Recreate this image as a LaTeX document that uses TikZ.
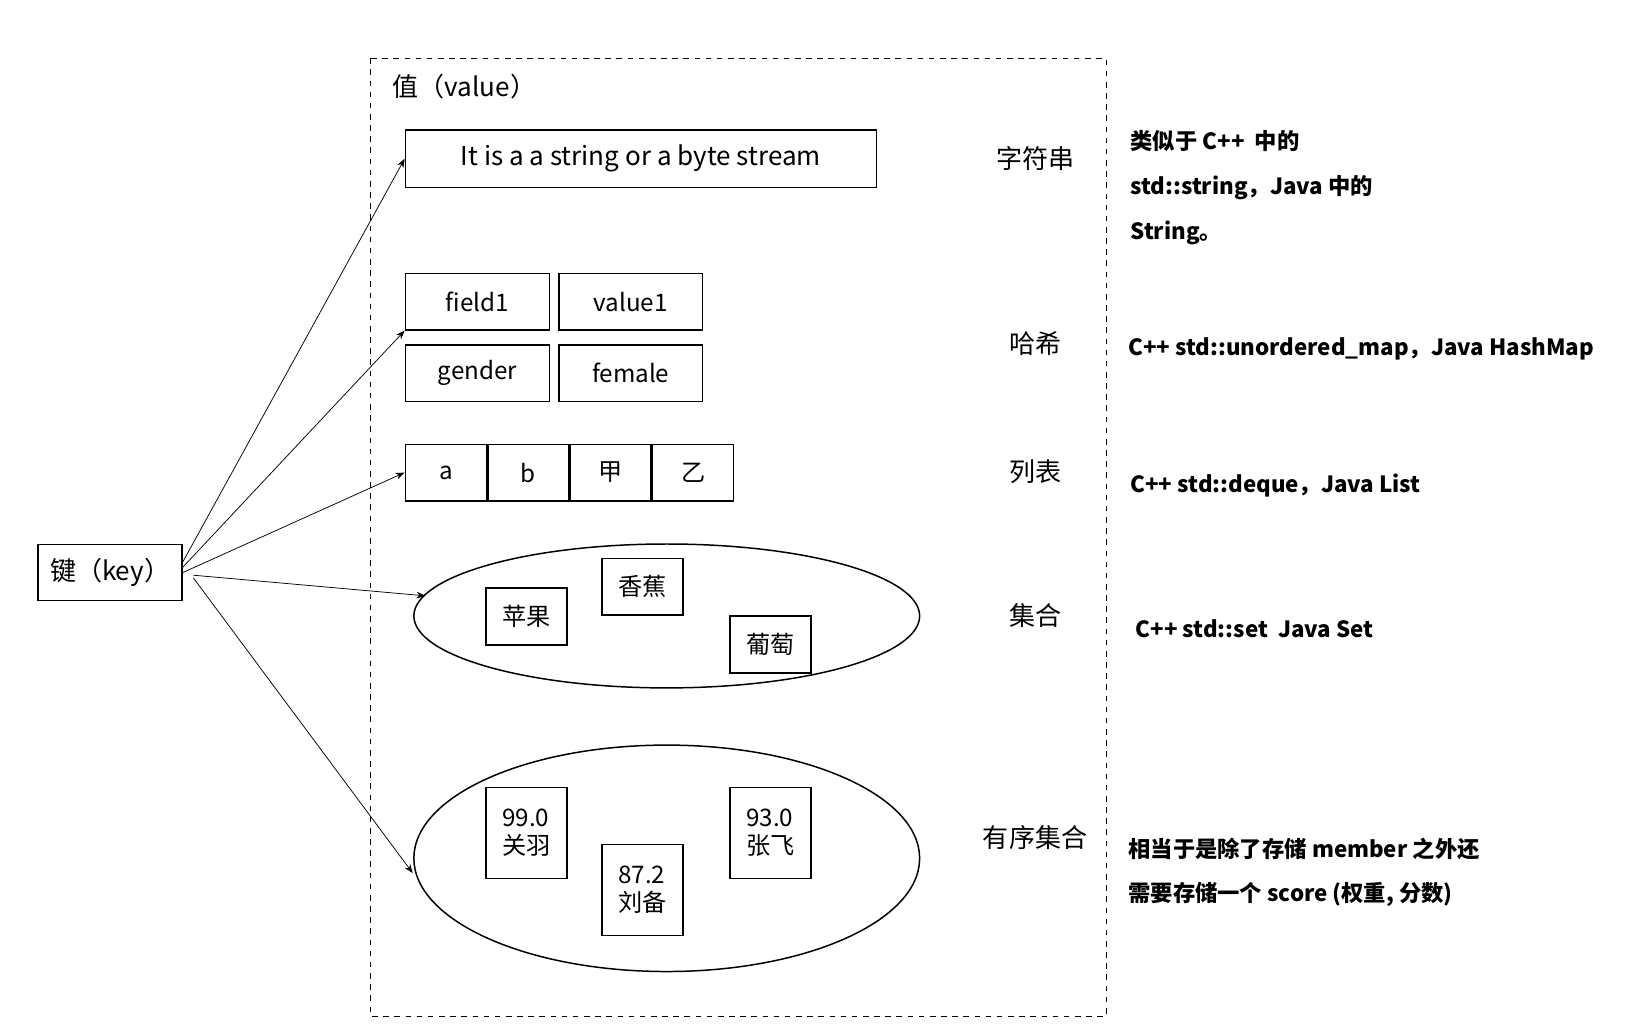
\documentclass[tikz,border=0pt]{standalone}
\usepackage{fontspec}
\setmainfont{Noto Sans CJK SC}
\usetikzlibrary{positioning,arrows.meta,shapes.geometric}
\tikzset{
	>=Stealth, % arrow heads
	cell/.style={draw, thick, minimum width=1.53cm, minimum height=1.07cm, inner sep=0pt, font=\fontsize{13}{15}\selectfont}, % value boxes
	pair/.style={cell, minimum width=2.72cm}, % hash entries
	tag/.style={font=\fontsize{14}{16}\selectfont}, % type names
	note/.style={anchor=west, font=\bfseries\fontsize{12}{14}\selectfont}, % right hand notes
}

\begin{document}
\begin{tikzpicture}[x=0.02cm,y=-0.02cm]
		\useasboundingbox (0,0) rectangle (1560,974);
		% key and frame
		\node[draw, thick, minimum width=2.72cm, minimum height=1.06cm, font=\fontsize{14}{16}\selectfont] (key) at (104,541) {键（key）};
		\draw[dashed] (350,55) rectangle (1045,960);
		\node[anchor=west, font=\fontsize{14}{16}\selectfont] (val) at (365,82) {值（value）};
		% string
		\node[draw, thick, minimum width=8.9cm, minimum height=1.08cm, font=\fontsize{14}{16}\selectfont] (str) at (605.5,150) {It is a a string or a byte stream};
		% hash
		\node[pair] (f1) at (451,285) {field1};
		\node[pair] (v1) at (596,285) {value1};
		\node[pair] (g1) at (451,352.5) {gender};
		\node[pair] (fe) at (596,352.5) {female};
		% list
		\node[cell] (la) at (421.25,446.5) {a};
		\node[cell, right=0pt of la] (lb) {b};
		\node[cell, right=0pt of lb] (lc) {甲};
		\node[cell, right=0pt of lc] (ld) {乙};
		% set
		\node[draw, thick, ellipse, minimum width=9.56cm, minimum height=2.72cm] (set) at (630,582) {};
		\node[cell] (s1) at (497.5,582.5) {苹果};
		\node[cell] (s2) at (607,554.5) {香蕉};
		\node[cell] (s3) at (728,609) {葡萄};
		% sorted set
		\node[draw, thick, ellipse, minimum width=9.56cm, minimum height=4.28cm] (zset) at (630,811) {};
		\node[cell, minimum height=1.72cm, align=left] (z1) at (497.5,787) {99.0\\关羽};
		\node[cell, minimum height=1.72cm, align=left] (z2) at (607,841) {87.2\\刘备};
		\node[cell, minimum height=1.72cm, align=left] (z3) at (728,787) {93.0\\张飞};
		% type names
		\node[tag] (t1) at (978,150) {字符串};
		\node[tag] (t2) at (978,325) {哈希};
		\node[tag] (t3) at (978,446) {列表};
		\node[tag] (t4) at (978,582) {集合};
		\node[tag] (t5) at (978,791) {有序集合};
		% notes
		\node[note] (n1) at (1062,133) {类似于 C++ \ 中的};
		\node[note] (n2) at (1062,177) {std::string，Java 中的};
		\node[note] (n3) at (1062,220) {String。};
		\node[note] (n4) at (1060,330) {C++ std::unordered\_map，Java HashMap};
		\node[note] (n5) at (1062,459) {C++ std::deque，Java List};
		\node[note] (n6) at (1067,594) {C++ std::set \ Java Set};
		\node[note] (n7) at (1060,802) {相当于是除了存储 member 之外还};
		\node[note] (n8) at (1060,845) {需要存储一个 score (权重, 分数)};
		% arrows
		\draw[->] ([yshift=0.2cm]key.east) -- (str.west);
		\draw[->] ([yshift=0.1cm]key.east) -- (f1.south west);
		\draw[->] (key.east) -- (la.west);
		\draw[->] ([xshift=0.2cm,yshift=-0.05cm]key.east) -- (402,563);
		\draw[->] ([xshift=0.2cm,yshift=-0.1cm]key.east) -- (390,825);
	\end{tikzpicture}
\end{document}
